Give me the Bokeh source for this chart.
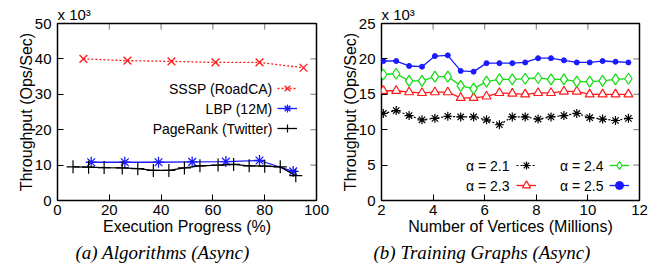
from bokeh.plotting import figure
from bokeh.models import (LinearAxis, Range1d, FixedTicker, Label, Legend, LegendItem,
                          BoxAnnotation, Title)
from bokeh.layouts import row
from bokeh.embed import file_html
from bokeh.resources import INLINE

# ---------------- data: panel (a) ----------------
sssp_x = [10, 27, 44, 61, 78, 95]
sssp_y = [40.0, 39.5, 39.3, 39.0, 39.0, 37.5]
lbp_x = [13, 26, 39, 52, 65, 78, 91]
lbp_y = [10.8, 10.8, 10.8, 10.9, 11.0, 11.3, 8.2]
pr_x = [6, 12, 18, 25, 31, 37, 43, 49, 55, 62, 68, 74, 80, 86, 92]
pr_y = [9.5, 9.4, 9.3, 9.2, 9.0, 8.5, 8.5, 9.2, 9.8, 10.0, 10.2, 9.8, 9.7, 9.5, 7.0]
a_xticks = [0, 20, 40, 60, 80, 100]
a_yticks = [0, 10, 20, 30, 40, 50]

# ---------------- data: panel (b) ----------------
verts = [2.07, 2.57, 3.07, 3.57, 4.07, 4.57, 5.07, 5.57, 6.07, 6.57,
         7.07, 7.57, 8.07, 8.57, 9.07, 9.57, 10.07, 10.57, 11.07, 11.57]
alpha21 = [12.3, 12.7, 12.0, 11.4, 11.6, 11.9, 11.8, 11.8, 11.4, 10.7,
           11.8, 11.8, 11.5, 11.8, 12.0, 12.3, 11.7, 11.5, 11.3, 11.6]
alpha23 = [15.5, 15.5, 15.3, 15.2, 15.3, 15.3, 14.5, 14.5, 14.7, 15.2,
           15.1, 15.0, 15.2, 15.2, 15.4, 15.4, 15.0, 15.0, 15.0, 15.0]
alpha24 = [17.8, 17.9, 16.9, 16.9, 17.5, 17.5, 16.2, 15.8, 16.8, 17.1,
           17.1, 17.2, 17.3, 17.1, 17.1, 16.8, 16.8, 16.9, 17.1, 17.2]
alpha25 = [19.7, 19.7, 19.0, 18.9, 20.4, 20.5, 18.3, 18.2, 19.4, 19.4,
           19.4, 19.5, 20.1, 20.1, 19.8, 19.5, 19.5, 19.7, 19.6, 19.5]
b_xticks = [2, 4, 6, 8, 10, 12]
b_yticks = [0, 5, 10, 15, 20, 25]

SANS = "Liberation Sans"
SERIF = "Liberation Serif"
RED = "#ff1a1a"
BLUE = "#1a1aff"
GREEN = "#11dd11"
BLACK = "#000000"
FH = 177  # frame height in px
TICK = 6


def base_fig(xr, yr, xt, yt, xlabel, caption, cap_off, bl, br, fw):
    p = figure(width=336, height=273, output_backend="svg", toolbar_location=None,
               x_range=Range1d(*xr), y_range=Range1d(*yr),
               min_border_left=bl, min_border_right=br,
               min_border_top=23, min_border_bottom=73, x_axis_location=None,
               y_axis_location=None, title="x 10\u00b3")
    p.title.text_font = SANS
    p.title.text_font_size = "15px"
    p.title.text_font_style = "normal"
    p.title.text_color = "black"
    p.title.align = "left"
    p.title.offset = 0
    p.title.standoff = 2
    p.grid.visible = False
    p.outline_line_color = "black"
    p.outline_line_width = 1.5
    p.background_fill_color = "white"
    p.border_fill_color = "white"
    for place, dim in (("below", "x"), ("left", "y")):
        ax = LinearAxis(ticker=FixedTicker(ticks=xt if dim == "x" else yt))
        ax.axis_line_color = None
        ax.major_tick_in = TICK
        ax.major_tick_out = 0
        ax.major_tick_line_color = "black"
        ax.major_tick_line_width = 1
        ax.minor_tick_line_color = None
        ax.major_label_text_font = SANS
        ax.major_label_text_color = "black"
        ax.major_label_text_font_size = "15px"
        ax.major_label_standoff = 4 if dim == "x" else 6
        ax.axis_label = xlabel if dim == "x" else "Throughput (Ops/Sec)"
        ax.axis_label_text_font = SANS
        ax.axis_label_text_font_size = "16px"
        ax.axis_label_text_font_style = "normal"
        ax.axis_label_text_color = "black"
        ax.axis_label_standoff = 0 if dim == "x" else -3
        p.add_layout(ax, place)
    # mirrored inward ticks on the top and right edges
    for t in xt:
        if xr[0] < t < xr[1]:
            p.add_layout(BoxAnnotation(left=t, right=t, bottom=FH - TICK, top=FH,
                                       bottom_units="screen", top_units="screen",
                                       fill_alpha=0, line_color="black", line_width=1))
    for t in yt:
        if yr[0] < t < yr[1]:
            p.add_layout(BoxAnnotation(bottom=t, top=t, left=fw - TICK, right=fw,
                                       left_units="screen", right_units="screen",
                                       fill_alpha=0, line_color="black", line_width=1))
    cap = Title(text=caption, align="left", offset=cap_off, standoff=4,
                text_font=SERIF, text_font_size="19px", text_font_style="italic",
                text_color="black")
    p.add_layout(cap, "below")
    return p


def txt(p, x, y, s):
    p.add_layout(Label(x=x, y=y, x_units="screen", y_units="screen", text=s,
                       text_font=SANS, text_font_size="14px", text_align="right",
                       text_baseline="middle", text_color="black"))


def key_legend(p, items, loc):
    lg = Legend(items=[LegendItem(label=" ", renderers=r) for r in items], location=loc,
                glyph_width=20, glyph_height=20, label_height=20, label_width=0,
                label_standoff=0, padding=0, margin=0, spacing=0,
                background_fill_alpha=0, border_line_alpha=0,
                label_text_font=SANS, label_text_font_size="14px")
    p.add_layout(lg, "center")


# ---------------- panel (a) ----------------
pa = base_fig((0, 100), (0, 50), a_xticks, a_yticks, "Execution Progress (%)",
              "(a) Algorithms (Async)", 18, 57, 20, 259)
r1 = pa.line(sssp_x, sssp_y, line_color=RED, line_width=1.3, line_dash="2 2")
r1m = pa.scatter(sssp_x, sssp_y, marker="x", size=11, line_color=RED, line_width=1.3)
r2 = pa.line(lbp_x, lbp_y, line_color=BLUE, line_width=1.3)
r2m = pa.scatter(lbp_x, lbp_y, marker="asterisk", size=11, line_color=BLUE, line_width=1.3)
r3 = pa.line(pr_x, pr_y, line_color=BLACK, line_width=1.3)
r3m = pa.scatter(pr_x, pr_y, marker="cross", size=13, line_color=BLACK, line_width=1.2)
key_legend(pa, [[r1, r1m], [r2, r2m], [r3, r3m]], (220, 62))
txt(pa, 215, 112, "SSSP (RoadCA)")
txt(pa, 215, 92, "LBP (12M)")
txt(pa, 215, 72, "PageRank (Twitter)")

# ---------------- panel (b) ----------------
pb = base_fig((2, 12), (0, 25), b_xticks, b_yticks, "Number of Vertices (Millions)",
              "(b) Training Graphs (Async)", -8, 45, 33, 258)
s1 = pb.line(verts, alpha21, line_color=BLACK, line_width=1.2, line_dash="2 2")
s1m = pb.scatter(verts, alpha21, marker="asterisk", size=9, line_color=BLACK, line_width=1.2)
s2 = pb.line(verts, alpha23, line_color=RED, line_width=1.3)
s2m = pb.scatter(verts, alpha23, marker="triangle", size=9, line_color=RED,
                 fill_color="white", line_width=1.2)
s3 = pb.line(verts, alpha24, line_color=GREEN, line_width=1.3)
s3m = pb.scatter(verts, alpha24, marker="diamond", size=11, line_color=GREEN,
                 fill_color="white", line_width=1.2)
s4 = pb.line(verts, alpha25, line_color=BLUE, line_width=1.3)
s4m = pb.scatter(verts, alpha25, marker="circle", size=5, line_color=BLUE, fill_color=BLUE)
key_legend(pb, [[s1, s1m], [s2, s2m]], (135, 5))
key_legend(pb, [[s3, s3m], [s4, s4m]], (228, 5))
txt(pb, 128, 35, "α = 2.1")
txt(pb, 128, 15, "α = 2.3")
txt(pb, 222, 35, "α = 2.4")
txt(pb, 222, 15, "α = 2.5")

layout = row(pa, pb)
open("out.html", "w").write(file_html(layout, INLINE))
